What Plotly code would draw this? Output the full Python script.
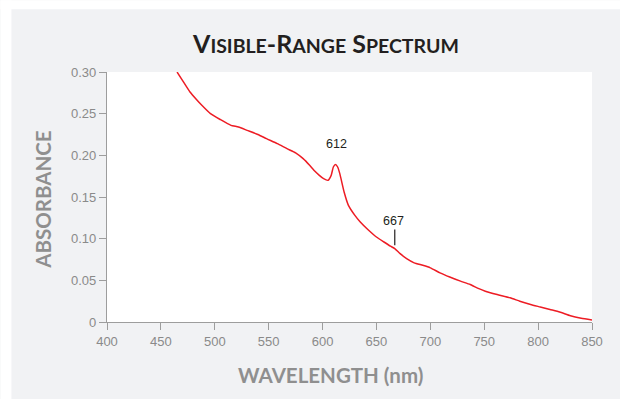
import numpy as np
import plotly.graph_objects as go

# ---- data ----
wavelength_nm = [465, 470, 477, 483, 488, 496, 505, 515, 522, 530, 540, 548, 558, 567, 575,
                 582, 588, 592, 597, 601, 605, 608, 610, 612, 614, 616, 620, 624, 630, 635,
                 642, 650, 657, 663, 667, 672, 678, 685, 693, 700, 709, 718, 728, 737, 745,
                 751, 762, 774, 783, 793, 802, 811, 820, 830, 840, 850]
absorbance = [0.300, 0.290, 0.276, 0.267, 0.260, 0.250, 0.243, 0.236, 0.234, 0.230, 0.225,
              0.220, 0.214, 0.208, 0.203, 0.196, 0.188, 0.182, 0.176, 0.172, 0.170, 0.176,
              0.186, 0.189, 0.186, 0.178, 0.156, 0.140, 0.128, 0.120, 0.111, 0.102, 0.096,
              0.091, 0.088, 0.082, 0.076, 0.071, 0.068, 0.065, 0.059, 0.054, 0.049, 0.045,
              0.040, 0.037, 0.033, 0.029, 0.025, 0.021, 0.018, 0.015, 0.012, 0.0075, 0.0045,
              0.0025]
peak_labels = ["612", "667"]
peak_nm = [612, 667]
x_ticks = [400, 450, 500, 550, 600, 650, 700, 750, 800, 850]
y_ticks = [0, 0.05, 0.10, 0.15, 0.20, 0.25, 0.30]
y_tick_text = ["0", "0.05", "0.10", "0.15", "0.20", "0.25", "0.30"]

# ---- figure ----
W, H = 620, 399
ml, mr, mt, mb = 106.6, 28.3, 71.7, 77.3
pw, ph = W - ml - mr, H - mt - mb
axis_col = "#9d9d9d"
tick_font = dict(family="Liberation Sans, Arial", size=13, color="#8a8a8a")
label_font = dict(family="Lato", size=20.5, color="#8f8f8f", weight="bold")

fig = go.Figure()
fig.add_trace(go.Scatter(x=wavelength_nm, y=absorbance, mode="lines",
                         line=dict(color="#ed1c24", width=1.5, shape="spline", smoothing=0.5),
                         hoverinfo="skip", showlegend=False, cliponaxis=True))

# peak labels
fig.add_annotation(x=peak_nm[0], y=np.interp(peak_nm[0], wavelength_nm, absorbance),
                   text=peak_labels[0], showarrow=False, yshift=21, xshift=1,
                   font=dict(family="Liberation Sans, Arial", size=12.5, color="#231f20"))
a667 = float(np.interp(peak_nm[1], wavelength_nm, absorbance))
fig.add_shape(type="line", xref="x", yref="y", x0=peak_nm[1], x1=peak_nm[1],
              y0=a667 + 0.004, y1=a667 + 0.023, line=dict(color="#231f20", width=1.2))
fig.add_annotation(x=peak_nm[1], y=a667, text=peak_labels[1], showarrow=False,
                   yshift=28, xshift=-1,
                   font=dict(family="Liberation Sans, Arial", size=12.5, color="#231f20"))

# title (small caps)
sc = "<span style='font-size:19.5px'>%s</span>"
title = "V" + sc % "ISIBLE" + "-R" + sc % "ANGE" + " S" + sc % "PECTRUM"
fig.add_annotation(xref="paper", yref="paper", x=(325 - ml) / pw, y=(H - mb - 43) / ph,
                   text=title, showarrow=False, xanchor="center", yanchor="middle",
                   font=dict(family="Lato", size=25, color="#231f20", weight="bold"))

# axis titles
fig.add_annotation(xref="paper", yref="paper", x=(43 - ml) / pw, y=(H - mb - 199) / ph,
                   text="ABSORBANCE", showarrow=False, textangle=-90,
                   xanchor="center", yanchor="middle", font=label_font)
fig.add_annotation(xref="paper", yref="paper", x=(330 - ml) / pw, y=(H - mb - 375) / ph,
                   text="WAVELENGTH (nm)", showarrow=False,
                   xanchor="center", yanchor="middle", font=label_font)

# white margins outside the gray panel
fig.add_shape(type="rect", xref="paper", yref="paper", layer="below",
              x0=-ml / pw, x1=(11 - ml) / pw, y0=-mb / ph, y1=(H - mb) / ph,
              fillcolor="white", line_width=0)
fig.add_shape(type="rect", xref="paper", yref="paper", layer="below",
              x0=-ml / pw, x1=(W - ml) / pw, y0=(H - mb - 9) / ph, y1=(H - mb) / ph,
              fillcolor="white", line_width=0)

fig.update_xaxes(range=[400, 850], tickvals=x_ticks, showline=True, linecolor=axis_col,
                 linewidth=1.2, ticks="outside", ticklen=7, tickcolor=axis_col, tickwidth=1.2,
                 showgrid=False, zeroline=False, tickfont=tick_font)
fig.update_yaxes(range=[0, 0.30], tickvals=y_ticks, ticktext=y_tick_text, showline=True,
                 linecolor=axis_col, linewidth=1.2, ticks="outside", ticklen=7,
                 tickcolor=axis_col, tickwidth=1.2, showgrid=False, zeroline=False,
                 tickfont=tick_font)
fig.update_layout(width=W, height=H, margin=dict(l=ml, r=mr, t=mt, b=mb, pad=0),
                  paper_bgcolor="#f1f2f4", plot_bgcolor="white", showlegend=False)
fig.write_html("out.html", config={"displayModeBar": False},
               post_script="document.body.style.margin='0';")
